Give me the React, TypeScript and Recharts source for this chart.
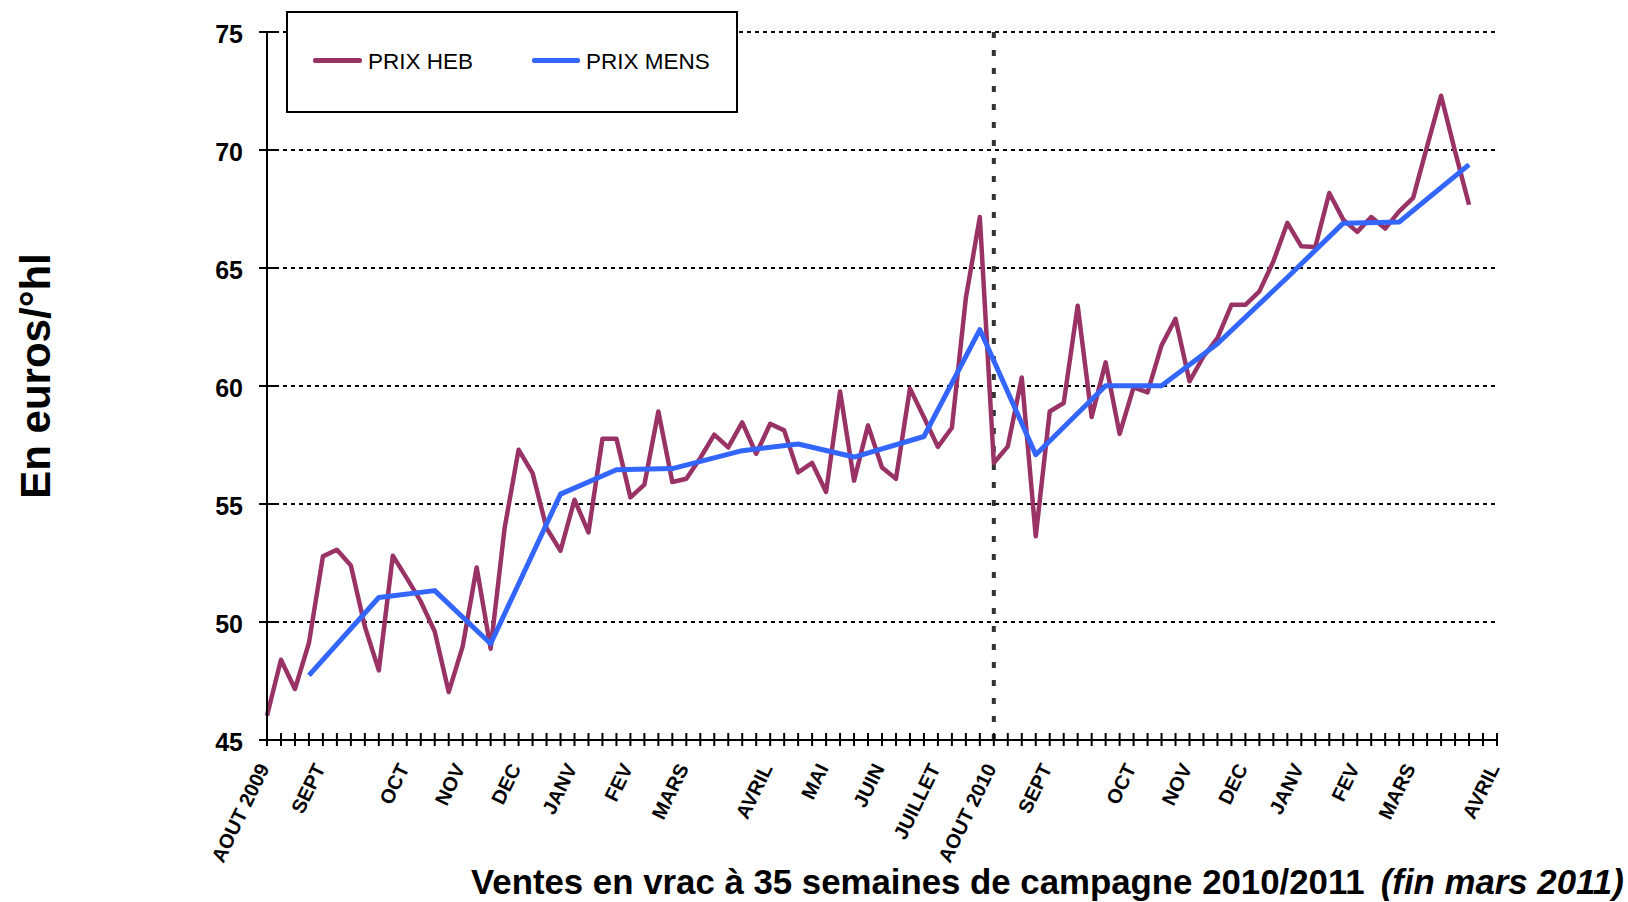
import React from 'react';
import { LineChart, Line, XAxis, YAxis, CartesianGrid, ReferenceLine, Legend } from 'recharts';

const FONT = '"Liberation Sans", Arial, Helvetica, sans-serif';
const HEB_COLOR = '#993366';
const MENS_COLOR = '#3366FF';

// Weekly price (PRIX HEB), week 0 = AOUT 2009
const hebPrices = [
  46.03, 48.4, 47.16, 49.11, 52.78, 53.06, 52.39, 49.81, 47.95, 52.81,
  51.86, 50.87, 49.6, 47.03, 48.97, 52.31, 48.87, 53.98, 57.3, 56.31,
  53.98, 53.02, 55.18, 53.8, 57.77, 57.77, 55.28, 55.82, 58.92, 55.93,
  56.07, 56.95, 57.94, 57.4, 58.46, 57.13, 58.4, 58.12, 56.34, 56.74,
  55.51, 59.77, 55.99, 58.33, 56.55, 56.07, 59.9, 58.68, 57.42, 58.23,
  63.73, 67.16, 56.74, 57.44, 60.36, 53.63, 58.92, 59.28, 63.4, 58.69,
  61.0, 57.97, 59.94, 59.73, 61.72, 62.85, 60.2, 61.25, 62.03, 63.44,
  63.44, 64.01, 65.28, 66.91, 65.92, 65.89, 68.18, 67.05, 66.53, 67.16,
  66.67, 67.4, 67.97, 70.15, 72.3, 69.94, 67.68,
];

// Monthly price (PRIX MENS): weeks where a monthly value is plotted, and the values
const mensWeeks = [3, 8, 12, 16, 21, 25, 29, 34, 38, 42, 47, 51, 55, 60, 64, 68, 73, 77, 81, 86];
const mensPrices = [47.74, 51.04, 51.33, 49.08, 55.42, 56.45, 56.5, 57.26, 57.54, 56.99, 57.86, 62.39, 57.09, 60.01, 60.01, 61.79, 64.6, 66.9, 66.95, 69.38];

// Month labels on the week axis
const monthWeeks = [0, 4, 10, 14, 18, 22, 26, 30, 36, 40, 44, 48, 52, 56, 62, 66, 70, 74, 78, 82, 88];
const monthLabels = ['AOUT 2009', 'SEPT', 'OCT', 'NOV', 'DEC', 'JANV', 'FEV', 'MARS', 'AVRIL', 'MAI', 'JUIN', 'JUILLET', 'AOUT 2010', 'SEPT', 'OCT', 'NOV', 'DEC', 'JANV', 'FEV', 'MARS', 'AVRIL'];

const weekCount = 89;
const campaignStartWeek = 52;
const yTicks = [45, 50, 55, 60, 65, 70, 75];

const weekTicks = Array.from({ length: weekCount }, (_, i) => i);
const data = weekTicks.map((i) => {
  const m = mensWeeks.indexOf(i);
  return {
    week: i,
    heb: i < hebPrices.length ? hebPrices[i] : null,
    mens: m >= 0 ? mensPrices[m] : null,
  };
});

const XTick = (props: any) => {
  const { x, y, payload } = props;
  const idx = monthWeeks.indexOf(payload.value);
  const tx = x + 3;
  const ty = y + 28;
  return (
    <g>
      <line x1={x} x2={x} y1={y - 7} y2={y + 6} stroke="#000" strokeWidth={2} />
      {idx >= 0 && (
        <text
          x={tx}
          y={ty}
          transform={`rotate(-64 ${tx} ${ty})`}
          textAnchor="end"
          fontSize={20}
          fontWeight="bold"
          fontFamily={FONT}
          fill="#000"
        >
          {monthLabels[idx]}
        </text>
      )}
    </g>
  );
};

const YTick = (props: any) => {
  const { x, y, payload } = props;
  return (
    <g>
      <line x1={x - 8} x2={x + 8} y1={y} y2={y} stroke="#000" strokeWidth={2} />
      <text x={x - 24} y={y + 11} textAnchor="end" fontSize={25} fontWeight="bold" fontFamily={FONT} fill="#000">
        {payload.value}
      </text>
    </g>
  );
};

const LegendBox = () => (
  <div
    style={{
      width: 452,
      height: 102,
      border: '2px solid #000',
      boxSizing: 'border-box',
      position: 'relative',
      background: '#fff',
      fontFamily: FONT,
      fontSize: 22.5,
      lineHeight: '22px',
      color: '#000',
    }}
  >
    <div style={{ position: 'absolute', left: 25, top: 45, width: 49, height: 4.5, background: HEB_COLOR, borderRadius: 2 }} />
    <span style={{ position: 'absolute', left: 80, top: 38, whiteSpace: 'nowrap' }}>PRIX HEB</span>
    <div style={{ position: 'absolute', left: 244, top: 45, width: 48, height: 5, background: MENS_COLOR, borderRadius: 2 }} />
    <span style={{ position: 'absolute', left: 298, top: 38, whiteSpace: 'nowrap' }}>PRIX MENS</span>
  </div>
);

export default function App() {
  return (
    <div style={{ position: 'absolute', left: 0, top: 0, width: 1628, height: 902, background: '#fff' }}>
      <LineChart
        width={1628}
        height={902}
        data={data}
        margin={{ top: 32, right: 131, bottom: 132, left: 0 }}
      >
        <CartesianGrid vertical={false} stroke="#000" strokeWidth={2} strokeDasharray="4 4" />
        <XAxis
          dataKey="week"
          type="number"
          domain={[0, weekCount - 1]}
          ticks={weekTicks}
          interval={0}
          height={30}
          tickSize={0}
          tickMargin={0}
          tickLine={false}
          axisLine={{ stroke: '#000', strokeWidth: 2 }}
          tick={<XTick />}
          label={{
            content: () => (
              <text x={471} y={894} fontSize={34.8} fontWeight="bold" fontFamily={FONT} fill="#000">
                Ventes en vrac à 35 semaines de campagne 2010/2011
                <tspan dx={16} fontStyle="italic">(fin mars 2011)</tspan>
              </text>
            ),
          }}
        />
        <YAxis
          type="number"
          domain={[45, 75]}
          ticks={yTicks}
          interval={0}
          width={267}
          tickSize={0}
          tickMargin={0}
          tickLine={false}
          axisLine={{ stroke: '#000', strokeWidth: 2 }}
          tick={<YTick />}
          label={{
            content: () => (
              <text
                x={50}
                y={376}
                transform="rotate(-90 50 376)"
                textAnchor="middle"
                fontSize={42}
                fontWeight="bold"
                fontFamily={FONT}
                fill="#000"
              >
                En euros/°hl
              </text>
            ),
          }}
        />
        <ReferenceLine x={campaignStartWeek} stroke="#333" strokeWidth={4} strokeDasharray="6 12" />
        <Line
          dataKey="heb"
          name="PRIX HEB"
          stroke={HEB_COLOR}
          strokeWidth={4.5}
          dot={false}
          isAnimationActive={false}
          strokeLinejoin="round"
          type="linear"
        />
        <Line
          dataKey="mens"
          name="PRIX MENS"
          stroke={MENS_COLOR}
          strokeWidth={5}
          dot={false}
          connectNulls
          isAnimationActive={false}
          strokeLinejoin="round"
          type="linear"
        />
        <Legend
          layout="horizontal"
          verticalAlign="middle"
          align="center"
          content={() => <LegendBox />}
          wrapperStyle={{ left: 286, top: 11, width: 452, height: 102 }}
        />
      </LineChart>
    </div>
  );
}
